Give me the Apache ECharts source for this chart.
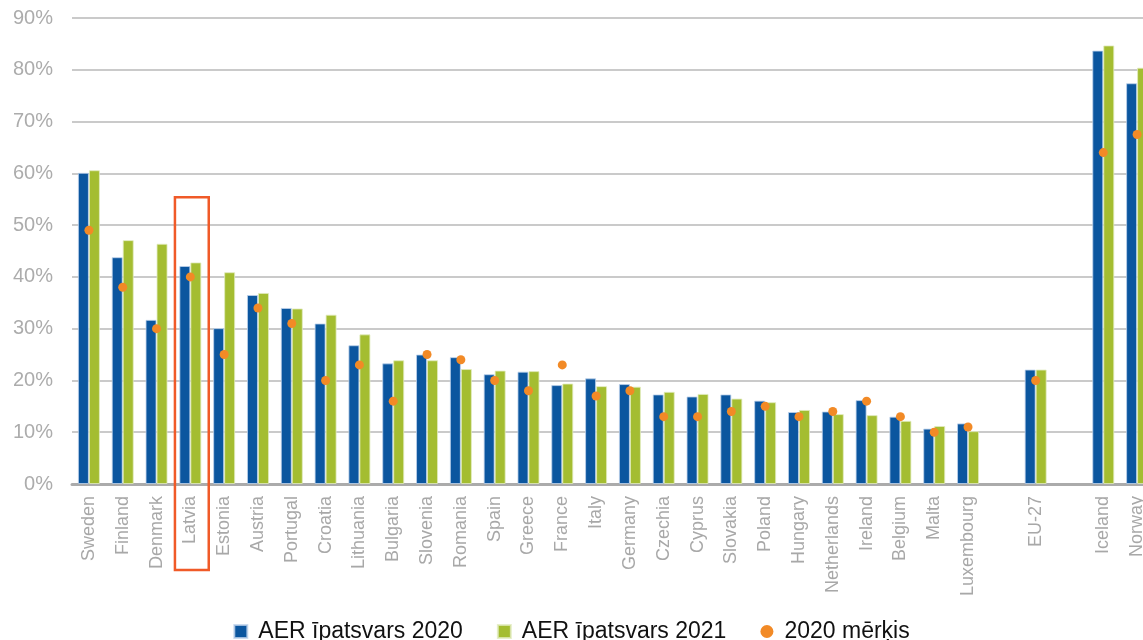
<!DOCTYPE html>
<html>
<head>
<meta charset="utf-8">
<style>
  html, body { margin: 0; padding: 0; background: #fff; }
  #chart { width: 1143px; height: 640px; }
</style>
<script src="https://cdn.jsdelivr.net/npm/echarts@6/dist/echarts.min.js"></script>
</head>
<body>
<div id="chart"></div>
<script>
// categories (blank entries are the gaps before EU-27 and Iceland)
const countries = [
  'Sweden', 'Finland', 'Denmark', 'Latvia', 'Estonia', 'Austria', 'Portugal', 'Croatia',
  'Lithuania', 'Bulgaria', 'Slovenia', 'Romania', 'Spain', 'Greece', 'France', 'Italy',
  'Germany', 'Czechia', 'Cyprus', 'Slovakia', 'Poland', 'Hungary', 'Netherlands', 'Ireland',
  'Belgium', 'Malta', 'Luxembourg', '', 'EU-27', '', 'Iceland', 'Norway'
]

// AER īpatsvars 2020, %
const share2020 = [
  60.1, 43.8, 31.7, 42.1, 30.1, 36.5, 34.0, 31.0,
  26.8, 23.3, 25.0, 24.5, 21.2, 21.7, 19.1, 20.4,
  19.3, 17.3, 16.9, 17.3, 16.1, 13.9, 14.0, 16.2,
  13.0, 10.7, 11.7, null, 22.1, null, 83.7, 77.4
]

// AER īpatsvars 2021, %
const share2021 = [
  60.6, 47.1, 46.4, 42.8, 40.9, 36.9, 33.9, 32.7,
  28.9, 23.9, 23.9, 22.2, 21.9, 21.8, 19.4, 18.9,
  18.8, 17.8, 17.4, 16.5, 15.8, 14.3, 13.5, 13.3,
  12.2, 11.2, 10.2, null, 22.1, null, 84.7, 80.4
]

// 2020 mērķis, %
const target2020 = [
  49, 38, 30, 40, 25, 34, 31, 20,
  23, 16, 25, 24, 20, 18, 23, 17,
  18, 13, 13, 14, 15, 13, 14, 16,
  13, 10, 11, null, 20, null, 64, 67.5
]

const yTicks = [0, 10, 20, 30, 40, 50, 60, 70, 80, 90]

const seriesNames = ['AER īpatsvars 2020', 'AER īpatsvars 2021', '2020 mērķis']
const colors = ['#0b569f', '#a4bd31', '#f28a26']

// highlighted category and top of its frame (value units)
const highlight = 'Latvia'
const highlightTop = 55.4

const font = "'Liberation Sans', Arial, sans-serif"
const chart = echarts.init(document.getElementById('chart'))

chart.setOption({
  animation: false,
  textStyle: { fontFamily: font },
  grid: { left: 72, top: 18, width: 1082, height: 466, outerBoundsMode: 'none', containLabel: false },
  legend: {
    data: [
      { name: seriesNames[0], icon: 'rect' },
      { name: seriesNames[1], icon: 'rect' },
      { name: seriesNames[2], icon: 'circle' }
    ],
    left: 'center',
    top: 615,
    itemWidth: 13,
    itemHeight: 13,
    itemGap: 34,
    textStyle: { fontFamily: font, fontSize: 23, color: '#111', padding: [0, 0, 0, 6] }
  },
  xAxis: {
    type: 'category',
    data: countries,
    axisTick: { show: false },
    axisLine: { lineStyle: { color: '#ababab', width: 3 } },
    axisLabel: {
      interval: 0,
      rotate: 90,
      margin: 12,
      fontSize: 18,
      color: '#a8a8a8',
      fontFamily: font
    }
  },
  yAxis: {
    type: 'value',
    min: yTicks[0],
    max: yTicks[yTicks.length - 1],
    interval: 10,
    axisLine: { show: false },
    axisTick: { show: false },
    splitLine: { lineStyle: { color: '#b8b8b8', width: 1.5 } },
    axisLabel: {
      formatter: '{value}%',
      fontSize: 20,
      color: '#acacac',
      margin: 19,
      fontFamily: font
    }
  },
  series: [
    {
      name: seriesNames[0],
      type: 'bar',
      data: share2020,
      barWidth: 11,
      barGap: '0%',
      itemStyle: { color: colors[0], borderColor: 'rgba(190,210,235,0.8)', borderWidth: 1 }
    },
    {
      name: seriesNames[1],
      type: 'bar',
      data: share2021,
      barWidth: 11,
      barGap: '0%',
      itemStyle: { color: colors[1], borderColor: 'rgba(225,235,190,0.8)', borderWidth: 1 }
    },
    {
      name: seriesNames[2],
      type: 'scatter',
      data: target2020,
      symbolSize: 9,
      z: 5,
      itemStyle: { color: colors[2], opacity: 1 }
    }
  ]
})

// frame around the highlighted country, placed through the axis scales
const drawFrame = () => {
  const idx = countries.indexOf(highlight)
  const cx = chart.convertToPixel({ xAxisIndex: 0 }, idx)
  const next = chart.convertToPixel({ xAxisIndex: 0 }, idx + 1)
  const band = next - cx
  const top = chart.convertToPixel({ yAxisIndex: 0 }, highlightTop)
  const base = chart.convertToPixel({ yAxisIndex: 0 }, 0)
  chart.setOption({
    graphic: [{
      type: 'rect',
      shape: { x: cx - band / 2 + 1.5, y: top, width: band, height: base - top + 86 },
      style: { fill: 'none', stroke: '#f05a28', lineWidth: 2.5 },
      z: 10
    }]
  })
}
drawFrame()
</script>
</body>
</html>
